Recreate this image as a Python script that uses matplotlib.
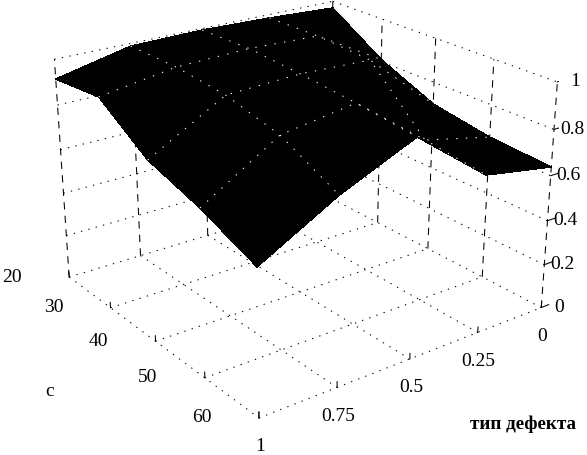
import numpy as np
import matplotlib
matplotlib.use("Agg")
import matplotlib.pyplot as plt
from mpl_toolkits.mplot3d import proj3d

sizes = [20, 30, 40, 50, 60]
defects = [1, 0.75, 0.5, 0.25, 0]
heights = [0, 0.2, 0.4, 0.6, 0.8, 1]
size_labels = ["20", "30", "40", "50", "60"]
defect_labels = ["1", "0.75", "0.5", "0.25", "0"]
height_labels = ["0", "0.2", "0.4", "0.6", "0.8", "1"]

# one row per s value, columns follow defects
z_s20 = [0.914, 0.988, 0.993, 0.984, 0.968]
z_s30 = [0.938, 0.990, 1.000, 0.988, 0.810]
z_s40 = [0.786, 0.971, 0.985, 0.973, 0.700]
z_s50 = [0.713, 0.915, 0.964, 0.727, 0.656]
z_s60 = [0.615, 0.795, 0.935, 0.693, 0.638]

plt.rcParams['font.family'] = ['Liberation Serif', 'DejaVu Serif']

fig = plt.figure(figsize=(5.87, 4.55), dpi=100)
ax = fig.add_axes([0.0468, -0.0055, 0.9051, 1.1677], projection='3d')
ax.set_xlim(20, 60)
ax.set_ylim(1, 0)
ax.set_zlim(0, 1)
ax.view_init(elev=22.9, azim=-36.71)
ax.set_proj_type('persp', focal_length=0.5144)
ax.set_box_aspect((1, 1.0078, 0.694))
ax.set_axis_off()
ax.computed_zorder = False

dot = (0, (1.3, 6))
dash = (0, (7, 6))
grid = dict(color='k', lw=0.75)

# floor
for s in sizes:
    ax.plot([s, s], [1, 0], [0, 0], ls=dot, **grid)
for d in defects:
    ax.plot([20, 60], [d, d], [0, 0], ls=dot, **grid)

# the two back walls
for h in heights[1:]:
    ax.plot([20, 20], [1, 0], [h, h], ls=dot, **grid)
    ax.plot([20, 60], [0, 0], [h, h], ls=dot, **grid)
for d in defects:
    ax.plot([20, 20], [d, d], [0, 1], ls=dash, **grid)
for s in sizes[1:]:
    ax.plot([s, s], [0, 0], [0, 1], ls=dash, **grid)

# small ticks
for s in sizes:
    ax.plot([s, s], [1, 1], [0, 0.025], **grid)
for d in defects:
    ax.plot([60, 60], [d, d], [0, 0.025], **grid)
for h in heights:
    ax.plot([60, 60], [0, -0.03], [h, h], **grid)

S, D = np.meshgrid(sizes, defects, indexing='ij')
Z = np.array([z_s20, z_s30, z_s40, z_s50, z_s60])
ax.plot_surface(S, D, Z, rstride=1, cstride=1, color='k', edgecolor='k',
                linewidth=0.3, shade=False, antialiased=False)

# inner mesh only, the outline stays clean
wire = dict(color='w', lw=0.75, ls=(0, (1.3, 8)))
for i in range(1, 4):
    ax.plot(S[i, :], D[i, :], Z[i, :], **wire)
    ax.plot(S[:, i], D[:, i], Z[:, i], **wire)


def tick_text(x, y, z, label, dx, dy, **kw):
    px, py, _ = proj3d.proj_transform(x, y, z, ax.get_proj())
    ax.annotate(label, xy=(px, py), xycoords='data', xytext=(dx, dy),
                textcoords='offset pixels', ha='center', va='center',
                annotation_clip=False, fontsize=14, **kw)


for s, label in zip(sizes, size_labels):
    tick_text(s, 1, 0, label, -57, 0)
for d, label in zip(defects, defect_labels):
    tick_text(60, d, 0, label, 1, -29)
for h, label in zip(heights, height_labels):
    tick_text(60, 0, h, label, 18, 0)

fig.text(523 / 587, 1 - 424 / 455, "тип дефекта", fontsize=13.8, fontweight='bold',
         ha='center', va='center')
fig.text(50 / 587, 1 - 392 / 455, "с", fontsize=14, ha='center', va='center')

fig.savefig("out.png", dpi=100)
